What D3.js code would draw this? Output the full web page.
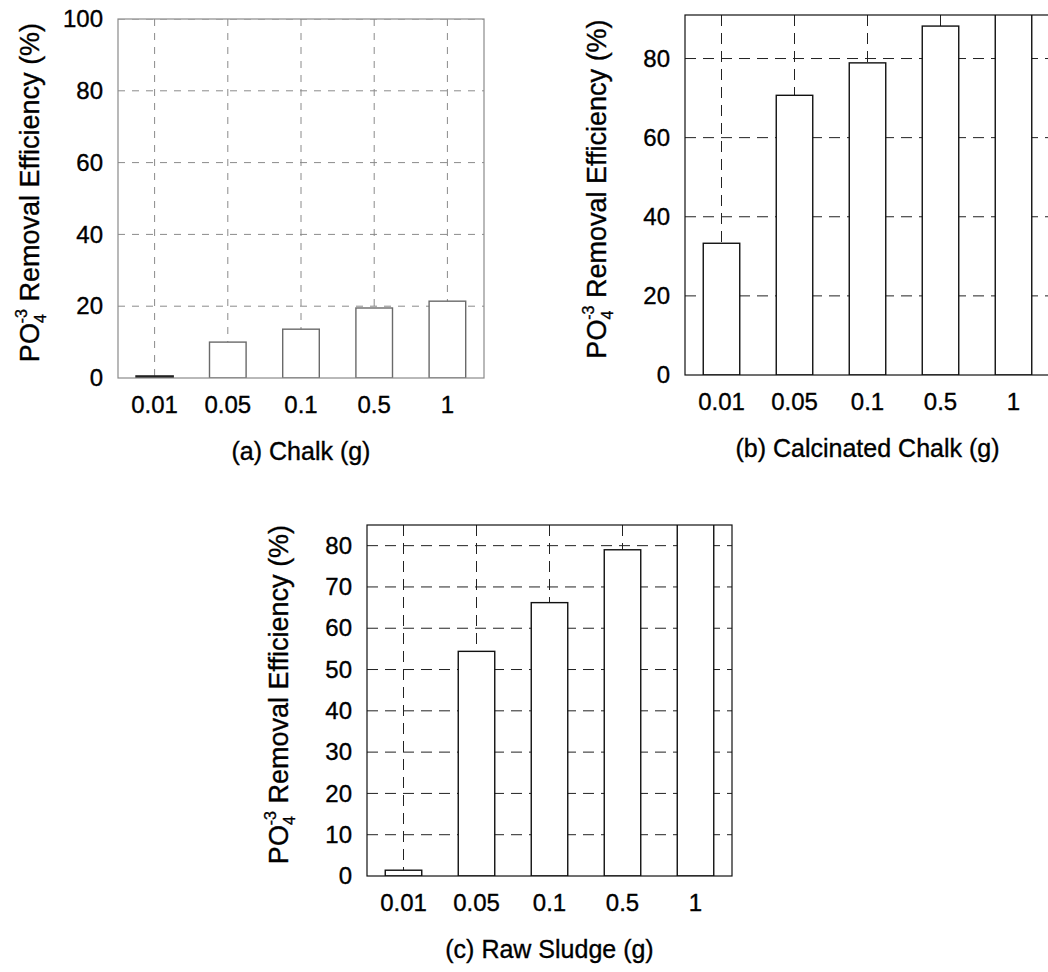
<!DOCTYPE html>
<html>
<head>
<meta charset="utf-8">
<script src="https://cdn.jsdelivr.net/npm/d3@7"></script>
<style>
  html, body { margin: 0; padding: 0; background: #fff; }
  svg { display: block; }
  text { font-family: "Liberation Sans", Arial, sans-serif; fill: #000; stroke: #000; stroke-width: 0.35px; }
</style>
</head>
<body>
<svg id="chart" width="1048" height="972"></svg>
<script>
// ---- data ----
const categories = ["0.01", "0.05", "0.1", "0.5", "1"];
const chalkValues = [0.5, 10, 13.6, 19.5, 21.4];
const calcinatedValues = [33.3, 70.7, 78.9, 88.2, 95];
const sludgeValues = [1.4, 54.4, 66.2, 79, 89];
const chalkTicks = [0, 20, 40, 60, 80, 100];
const calcinatedTicks = [0, 20, 40, 60, 80];
const sludgeTicks = [0, 10, 20, 30, 40, 50, 60, 70, 80];
const chalkTitle = "(a) Chalk (g)";
const calcinatedTitle = "(b) Calcinated Chalk (g)";
const sludgeTitle = "(c) Raw Sludge (g)";

const panels = [
  { id: "a", values: chalkValues, ticks: chalkTicks, max: 100, title: chalkTitle,
    left: 118, right: 484, top: 19, bottom: 378,
    frame: "#8a8a8a", bar: "#6a6a6a", grid: "#8a8a8a", dash: "7,7" },
  { id: "b", values: calcinatedValues, ticks: calcinatedTicks, max: 91, title: calcinatedTitle,
    left: 685, right: 1050, top: 15, bottom: 375,
    frame: "#111", bar: "#111", grid: "#222", dash: "11,7" },
  { id: "c", values: sludgeValues, ticks: sludgeTicks, max: 85, title: sludgeTitle,
    left: 367, right: 732, top: 525, bottom: 876,
    frame: "#111", bar: "#111", grid: "#222", dash: "11,7" }
];

const svg = d3.select("#chart");

panels.forEach(p => {
  const x = d3.scaleBand().domain(categories).range([p.left, p.right])
    .paddingInner(0.5).paddingOuter(0.25);
  const y = d3.scaleLinear().domain([0, p.max]).range([p.bottom, p.top]);
  const g = svg.append("g");

  const clipId = "clip-" + p.id;
  svg.append("clipPath").attr("id", clipId).append("rect")
    .attr("x", p.left).attr("y", p.top)
    .attr("width", p.right - p.left).attr("height", p.bottom - p.top);

  // grid
  const grid = g.append("g").attr("clip-path", `url(#${clipId})`);
  grid.selectAll("line.h").data(p.ticks.filter(t => t > 0)).join("line")
    .attr("x1", p.left).attr("x2", p.right)
    .attr("y1", d => y(d)).attr("y2", d => y(d))
    .attr("stroke", p.grid).attr("stroke-width", 1)
    .attr("stroke-dasharray", p.dash);
  grid.selectAll("line.v").data(categories).join("line")
    .attr("x1", d => x(d) + x.bandwidth() / 2).attr("x2", d => x(d) + x.bandwidth() / 2)
    .attr("y1", p.top).attr("y2", p.bottom)
    .attr("stroke", p.grid).attr("stroke-width", 1)
    .attr("stroke-dasharray", p.dash);

  // bars
  const bars = g.append("g").attr("clip-path", `url(#${clipId})`);
  bars.selectAll("rect").data(p.values).join("rect")
    .attr("x", (d, i) => x(categories[i]))
    .attr("width", x.bandwidth())
    .attr("y", d => y(d))
    .attr("height", d => y(0) - y(d))
    .attr("fill", "#fff")
    .attr("stroke", (d, i) => (p.id === "a" && i === 0) ? "#222" : p.bar)
    .attr("stroke-width", (d, i) => (p.id === "a" && i === 0) ? 2 : 1.4);

  // frame
  g.append("rect")
    .attr("x", p.left).attr("y", p.top)
    .attr("width", p.right - p.left).attr("height", p.bottom - p.top)
    .attr("fill", "none").attr("stroke", p.frame).attr("stroke-width", 1.2);

  // y axis
  const yAxis = d3.axisLeft(y).tickValues(p.ticks).tickSize(0).tickPadding(15)
    .tickFormat(d3.format("d"));
  const ya = g.append("g").attr("transform", `translate(${p.left},0)`).call(yAxis);
  ya.select(".domain").remove();
  ya.selectAll("text").attr("font-size", 24)
    .attr("font-family", "'Liberation Sans', Arial, sans-serif").attr("fill", "#000");

  // x axis
  const xAxis = d3.axisBottom(x).tickSize(0).tickPadding(18);
  const xa = g.append("g").attr("transform", `translate(0,${p.bottom})`).call(xAxis);
  xa.select(".domain").remove();
  xa.selectAll("text").attr("font-size", 24)
    .attr("font-family", "'Liberation Sans', Arial, sans-serif").attr("fill", "#000");

  // x title
  g.append("text")
    .attr("x", (p.left + p.right) / 2).attr("y", p.bottom + 82)
    .attr("text-anchor", "middle").attr("font-size", 25)
    .text(p.title);

  // y title
  const cx = p.left - 88, cy = (p.top + p.bottom) / 2 - 6;
  const yt = g.append("g").attr("transform", `translate(${cx},${cy}) rotate(-90)`);
  const t = yt.append("text").attr("font-size", 27).attr("dy", "0.35em");
  t.append("tspan").text("PO");
  t.append("tspan").attr("font-size", 16).attr("dy", 7).text("4");
  t.append("tspan").attr("font-size", 16).attr("dx", -9).attr("dy", -19).text("-3");
  t.append("tspan").attr("dy", 12).text(" Removal Efficiency (%)");
  const bb = t.node().getBBox();
  t.attr("x", -(bb.x + bb.width / 2));
});
</script>
</body>
</html>
